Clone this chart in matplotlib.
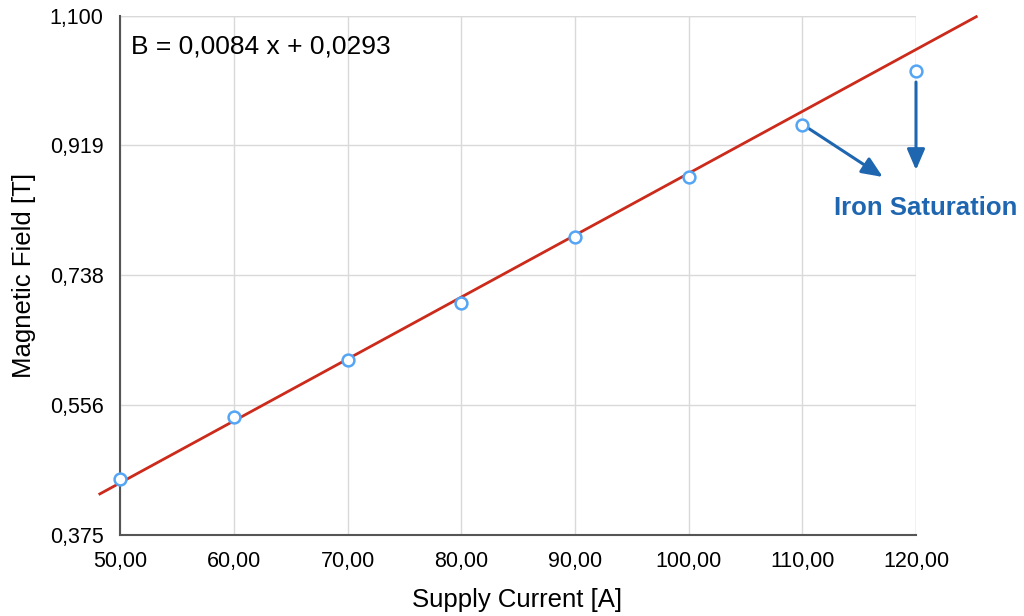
import matplotlib
matplotlib.use("Agg")
import matplotlib.pyplot as plt
import numpy as np

plt.rcParams['font.family'] = ['Liberation Sans', 'DejaVu Sans']

# Data
current = [50, 60, 70, 80, 90, 100, 110, 120]
field = [0.4524, 0.5395, 0.6196, 0.6992, 0.7915, 0.8754, 0.9481, 1.0231]
trend_x = [48.2, 125.3]
trend_y = [0.432, 1.099]
x_ticks = [50, 60, 70, 80, 90, 100, 110, 120]
x_tick_labels = ["50,00", "60,00", "70,00", "80,00", "90,00", "100,00", "110,00", "120,00"]
y_ticks = [0.375, 0.556, 0.738, 0.919, 1.100]
y_tick_labels = ["0,375", "0,556", "0,738", "0,919", "1,100"]
equation = "B = 0,0084 x + 0,0293"
annot_text = "Iron Saturation"

fig = plt.figure(figsize=(10.24, 6.16), dpi=100)
ax = fig.add_axes([120.3/1024, 1-534.7/616, (916-120.3)/1024, (534.7-16)/616])

ax.set_xlim(50, 120)
ax.set_ylim(0.375, 1.100)
ax.set_xticks(x_ticks)
ax.set_xticklabels(x_tick_labels)
ax.set_yticks(y_ticks)
ax.set_yticklabels(y_tick_labels)
ax.tick_params(length=0, labelsize=15.5, pad=12, colors='black')
ax.grid(True, color='#d9d9d9', linewidth=1)
ax.set_axisbelow(True)

for s in ['top', 'right']:
    ax.spines[s].set_visible(False)
for s in ['left', 'bottom']:
    ax.spines[s].set_color('#555555')
    ax.spines[s].set_linewidth(1.5)

# top/right gridlines to close the box
ax.axhline(1.100, color='#d9d9d9', linewidth=1, zorder=0.5)
ax.axvline(120, color='#d9d9d9', linewidth=1, zorder=0.5)

ax.plot(trend_x, trend_y, color='#cc2a1a', linewidth=2, clip_on=False, zorder=3)
ax.plot(current, field, linestyle='none', marker='o', markersize=8.5,
        markerfacecolor='white', markeredgecolor='#55a5f5', markeredgewidth=1.8,
        clip_on=False, zorder=4)

ax.text(0.0134, 0.942, equation, transform=ax.transAxes, fontsize=19,
        ha='left', va='center')

ax.set_xlabel("Supply Current [A]", fontsize=18.5)
ax.set_ylabel("Magnetic Field [T]", fontsize=18.5)
ax.xaxis.set_label_coords(0.499, -0.103)
ax.yaxis.set_label_coords(-0.106, 0.5)

blue = '#1f66b0'
ax.annotate("", xy=(117.08, 0.875), xytext=(110.5, 0.9434),
            arrowprops=dict(arrowstyle='-|>,head_length=0.7,head_width=0.3', color=blue, lw=2.2,
                            mutation_scale=18, shrinkA=0, shrinkB=0),
            annotation_clip=False)
ax.annotate("", xy=(120, 0.8847), xytext=(120, 1.0077),
            arrowprops=dict(arrowstyle='-|>,head_length=0.7,head_width=0.3', color=blue, lw=2.2,
                            mutation_scale=18, shrinkA=0, shrinkB=0),
            annotation_clip=False)
ax.text(120.88, 0.8316, annot_text, color=blue, fontsize=18.5, fontweight='bold',
        ha='center', va='center', clip_on=False)

fig.savefig("out.png", dpi=100)
